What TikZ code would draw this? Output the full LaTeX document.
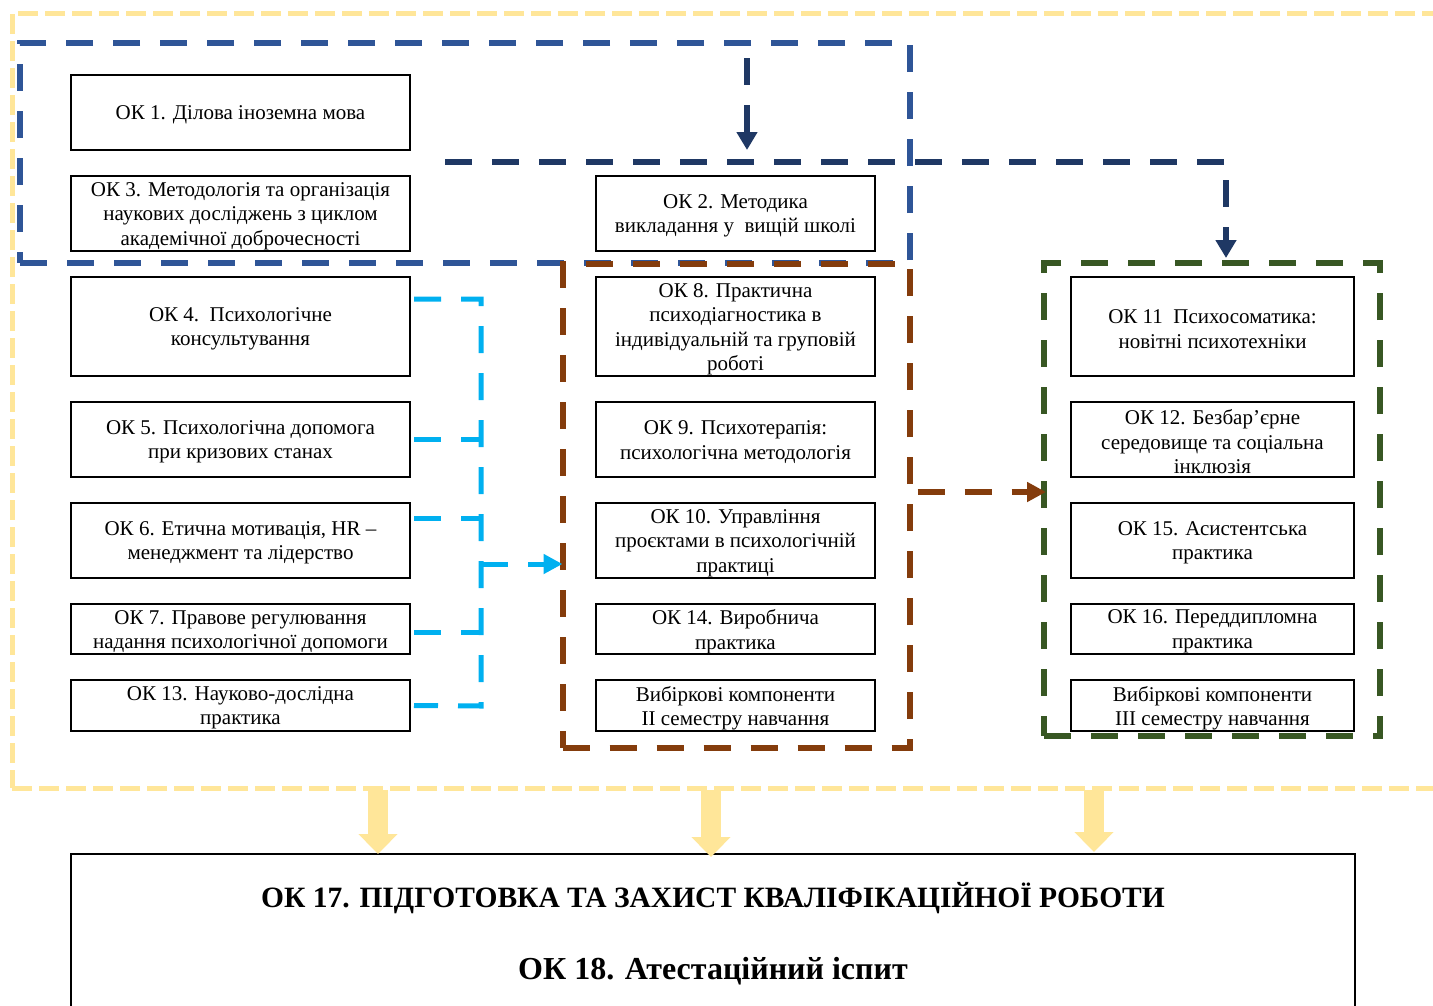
\documentclass[tikz,border=0pt]{standalone}
\usepackage{fontspec}
\setmainfont{Liberation Serif}[BoldFont={Liberation Serif Bold}]
\usetikzlibrary{arrows.meta,calc}
\definecolor{yel}{HTML}{FFE699}
\definecolor{blu}{HTML}{2F5597}
\definecolor{nav}{HTML}{1F3864}
\definecolor{brn}{HTML}{843C0C}
\definecolor{grn}{HTML}{385723}
\definecolor{cya}{HTML}{00B0F0}
\newcommand{\okbox}[5]{%
  \node[#1,#2] (#3) at (#4) {};
  \node[txt] (#3t) at ([yshift=-2.5pt]#3.center) {#5};}
\begin{document}
\begin{tikzpicture}[x=1pt,y=-1pt,
  box/.style={draw=black, line width=2pt, fill=white, inner sep=0pt, outer sep=0pt},
  txt/.style={inner sep=0pt, align=center, font=\fontsize{21}{24.5}\selectfont},
  btxt/.style={inner sep=0pt, anchor=base, font=\bfseries},
  lbox/.style={box, minimum width=339pt},
  mbox/.style={box, minimum width=279pt},
  rbox/.style={box, minimum width=283pt},
  hA/.style={minimum height=75pt},
  hB/.style={minimum height=99pt},
  hC/.style={minimum height=50pt},
  hD/.style={minimum height=51pt},
  frm/.style={draw, line width=6pt, dash pattern=on 27pt off 20pt, inner sep=0pt, outer sep=0pt, line join=miter},
  yfrm/.style={draw=yel, line width=5pt, dash pattern=on 20pt off 7pt, inner sep=0pt, outer sep=0pt},
  navline/.style={draw=nav, line width=6pt, dash pattern=on 27pt off 20pt},
  cline/.style={draw=cya, line width=5pt, dash pattern=on 27pt off 20pt},
  bline/.style={draw=brn, line width=6pt, dash pattern=on 27pt off 20pt},
  yarrow/.style={draw=yel, line width=20pt, -{Triangle[length=20pt,width=38pt]}},
]
\useasboundingbox (0,0) rectangle (1433,1005);

% frames
\node[yfrm, minimum width=1448pt, minimum height=775pt] (allframe) at (736,400.5) {};
\node[frm, draw=blu, minimum width=890pt, minimum height=220pt] (sem1) at (465,153) {};
\node[frm, draw=brn, minimum width=347pt, minimum height=484pt] (sem2) at (736,506) {};
\node[frm, draw=grn, minimum width=336pt, minimum height=473pt] (sem3) at (1212,499.5) {};

% left column
\okbox{lbox}{hA}{ok1}{240.5,112.5}{ОК 1. Ділова іноземна мова}
\okbox{lbox}{hA}{ok3}{240.5,213.5}{ОК 3. Методологія та організація\\наукових досліджень з циклом\\академічної доброчесності}
\okbox{lbox}{hB}{ok4}{240.5,326.5}{ОК 4.\ \ Психологічне\\консультування}
\okbox{lbox}{hA}{ok5}{240.5,439.5}{ОК 5. Психологічна допомога\\при кризових станах}
\okbox{lbox}{hA}{ok6}{240.5,540.5}{ОК 6. Етична мотивація, HR –\\менеджмент та лідерство}
\okbox{lbox}{hC}{ok7}{240.5,629}{ОК 7. Правове регулювання\\надання психологічної допомоги}
\okbox{lbox}{hD}{ok13}{240.5,705.5}{ОК 13. Науково-дослідна\\практика}

% middle column
\okbox{mbox}{hA}{ok2}{735.5,213.5}{ОК 2. Методика\\викладання у\ \ вищій школі}
\okbox{mbox}{hB}{ok8}{735.5,326.5}{ОК 8. Практична\\психодіагностика в\\індивідуальній та груповій\\роботі}
\okbox{mbox}{hA}{ok9}{735.5,439.5}{ОК 9. Психотерапія:\\психологічна методологія}
\okbox{mbox}{hA}{ok10}{735.5,540.5}{ОК 10. Управління\\проєктами в психологічній\\практиці}
\okbox{mbox}{hC}{ok14}{735.5,629}{ОК 14. Виробнича\\практика}
\okbox{mbox}{hD}{vib2}{735.5,705.5}{Вибіркові компоненти\\II семестру навчання}

% right column
\okbox{rbox}{hB}{ok11}{1212.5,326.5}{ОК 11\ \ Психосоматика:\\новітні психотехніки}
\okbox{rbox}{hA}{ok12}{1212.5,439.5}{ОК 12. Безбар’єрне\\середовище та соціальна\\інклюзія}
\okbox{rbox}{hA}{ok15}{1212.5,540.5}{ОК 15. Асистентська\\практика}
\okbox{rbox}{hC}{ok16}{1212.5,629}{ОК 16. Переддипломна\\практика}
\okbox{rbox}{hD}{vib3}{1212.5,705.5}{Вибіркові компоненти\\III семестру навчання}

% final box
\node[box, minimum width=1284pt, minimum height=158pt] (final) at (713,933) {};
\node[btxt] (ok17) at (713,907) {\fontsize{29.5}{32}\selectfont ОК 17. ПІДГОТОВКА ТА ЗАХИСТ КВАЛІФІКАЦІЙНОЇ РОБОТИ};
\node[btxt] (ok18) at (713,979) {\fontsize{32}{36}\selectfont ОК 18. Атестаційний іспит};

% navy connectors
\coordinate (nv1) at (747,58);
\coordinate (nh1) at (445,162);
\coordinate (nh2) at (1226,162);
\draw[navline, -{Triangle[length=18pt,width=20pt]}] (nv1) -- ([yshift=12pt]nv1 |- nh1);
\draw[navline, -{Triangle[length=18pt,width=20pt]}] (nh1) -- (nh2) -- ([yshift=5pt]nh2 |- sem3.north);

% cyan connectors
\coordinate (sp1) at (481,299);
\coordinate (sp5) at (481,706);
\coordinate (spm) at (481,564);
\draw[cline] ([shift={(4pt,27.5pt)}]ok4.east) -- (sp1) -- (sp5) -- ([xshift=4pt]ok13.east);
\draw[cline] ([xshift=4pt]ok5.east) -- (ok5.east -| sp1);
\draw[cline] ([shift={(4pt,22.5pt)}]ok6.east) coordinate (s6) -- (s6 -| sp1);
\draw[cline] ([shift={(4pt,-3pt)}]ok7.east) coordinate (s7) -- (s7 -| sp1);
\draw[cline, -{Triangle[length=19pt,width=19pt]}] (spm) -- (sem2.west |- spm);

% brown connector
\draw[bline, -{Triangle[length=19pt,width=19pt]}] ([shift={(8pt,14pt)}]sem2.east) coordinate (ba) -- ([xshift=2pt]sem3.west |- ba);

% yellow arrows
\draw[yarrow] (378,790) -- ([xshift=-335pt]final.north);
\draw[yarrow] (711,790) -- ([shift={(-2pt,-3pt)}]final.north);
\draw[yarrow] (1094,790) -- ([shift={(381pt,2pt)}]final.north);
\end{tikzpicture}
\end{document}
